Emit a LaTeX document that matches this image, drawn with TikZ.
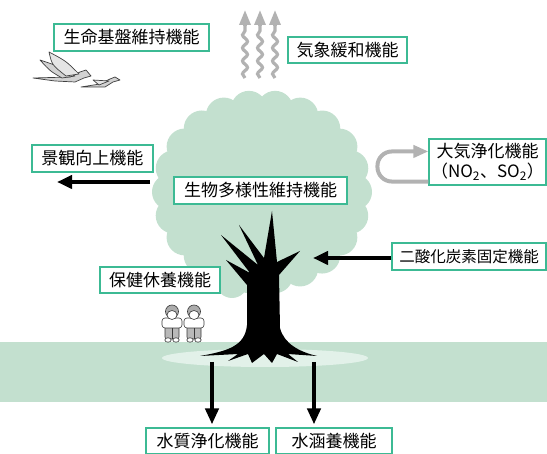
\documentclass[tikz,border=0pt]{standalone}
\usepackage{fontspec}
\setmainfont{Noto Sans CJK JP}
\usetikzlibrary{arrows.meta,decorations.pathmorphing}

\definecolor{leaf}{RGB}{195,224,207}
\definecolor{paleleaf}{RGB}{226,241,233}
\definecolor{boxline}{RGB}{60,186,148}
\definecolor{steamgray}{RGB}{178,178,178}

\begin{document}
\begin{tikzpicture}[x=1pt,y=1pt]
\tikzstyle{every node}+=[inner sep=0pt]
\tikzstyle{func}=[draw=boxline, line width=1.1pt, fill=white, minimum height=27pt, font=\fontsize{17}{20}\selectfont]
\tikzstyle{bigarrow}=[line width=4.6pt, -{Triangle[length=15pt,width=13pt]}]
\tikzstyle{grayarrow}=[steamgray, line width=4pt, -{Triangle[length=15pt,width=12pt]}]
\tikzstyle{steam}=[steamgray, line width=3.2pt]
\tikzstyle{bird}=[draw=black!75, fill=gray!35, line width=0.7pt, line join=round]
\tikzstyle{kid}=[draw=gray!45!black, line width=0.6pt]
\useasboundingbox (0,0) rectangle (547,-454);

% ground and shade under the tree
\fill[leaf] (0,-342) rectangle (547,-402);
\fill[paleleaf] (265,-358) ellipse [x radius=103, y radius=9];

% crown
\fill[leaf] (262,-192) ellipse [x radius=92, y radius=84];
\foreach \a in {0,16.36,...,350}
  \fill[leaf, shift={(262,-192)}] (\a:92 and 84) circle (18);
\fill[leaf] (232,-282) circle (16);

% trunk with branches and roots
\fill[black] (200,-356) .. controls (228,-351) and (245,-346) .. (247,-325)
  -- (247,-285) -- (226,-260) -- (250,-273) -- (221,-235) -- (258,-265)
  -- (239,-225) -- (264,-258) -- (272,-211) -- (277,-262) -- (300,-251)
  -- (279,-275) -- (280,-328) .. controls (284,-344) and (300,-352) .. (317,-356)
  -- (288,-354) -- (298,-362) -- (277,-354) -- (272,-363) -- (264,-354)
  -- (252,-363) -- (248,-354) -- (228,-361) -- (238,-354) -- cycle;

% steam rising
\foreach \sx in {245,260,275}{
  \draw[steam, decorate, decoration={snake, segment length=13pt, amplitude=2.5pt}] (\sx,-78) -- (\sx,-25);
  \draw[steam, -{Triangle[length=15pt,width=11pt]}] (\sx,-26) -- (\sx,-10);
}

% birds
\draw[bird] (33,-78) -- (70,-77) -- (80,-72) -- (86,-70) -- (91,-76) -- (84,-78) -- (75,-82) -- (55,-81) -- cycle;
\draw[bird] (75,-76) .. controls (58,-66) .. (40,-60) .. controls (50,-71) .. (62,-78) -- cycle;
\draw[bird, fill=gray!20] (79,-74) .. controls (66,-61) .. (49,-52) .. controls (52,-65) .. (66,-76) -- cycle;
\draw[bird] (81,-87) -- (100,-84) -- (110,-79) -- (115,-77) -- (120,-80) -- (113,-82) -- (105,-87) -- cycle;
\draw[bird, fill=gray!20] (109,-81) -- (93,-80) -- (99,-85) -- cycle;

% two kids sitting
\foreach \px in {172,194}{
  \draw[kid, fill=gray!55, rounded corners=2pt] (\px-7,-326) rectangle (\px+7,-339);
  \draw[kid] (\px,-328) -- (\px,-339);
  \draw[kid, fill=white] (\px-4,-340) ellipse [x radius=3.2, y radius=2.2];
  \draw[kid, fill=white] (\px+4,-340) ellipse [x radius=3.2, y radius=2.2];
  \draw[kid, fill=white, rounded corners=3pt] (\px-10,-318) rectangle (\px+10,-328);
  \draw[kid, fill=gray!65] (\px,-311.5) circle (6.5);
  \draw[kid, fill=white] (\px,-315) ellipse [x radius=5, y radius=4.5];
}

% function labels
\node[func, minimum width=155pt] (life) at (131.5,-37.5) {生命基盤維持機能};
\node[func, minimum width=119pt, minimum height=26pt] (climate) at (347.5,-50) {気象緩和機能};
\node[func, minimum width=121pt] (scenery) at (92.5,-158.5) {景観向上機能};
\node[func, minimum width=173pt] (biodiv) at (260.5,-190.5) {生物多様性維持機能};
\node[func, minimum width=117pt, minimum height=46pt, align=center] (air) at (487.5,-162)
  {大気浄化機能\\（NO\textsubscript{2}、SO\textsubscript{2}）};
\node[func, minimum width=154pt, font=\fontsize{15.5}{18}\selectfont] (co2) at (469,-256.5) {二酸化炭素固定機能};
\node[func, minimum width=120pt, minimum height=26pt] (health) at (160,-280) {保健休養機能};
\node[func, minimum width=123pt, minimum height=26pt] (wq) at (207.5,-441) {水質浄化機能};
\node[func, minimum width=116pt, minimum height=26pt] (wr) at (334,-441) {水涵養機能};

% arrows
\coordinate (scA) at (150,-182);
\coordinate (scB) at (57,-182);
\draw[bigarrow] (scA) -- (scB);

\coordinate (co2tip) at (313,-258);
\draw[bigarrow] (co2.west |- co2tip) -- (co2tip);

\draw[grayarrow, rounded corners=14.5pt] ([yshift=4pt]air.south west) -- ++(-51,0) |- ([yshift=-13pt]air.north west);

\coordinate (rootL) at (212,-362);
\coordinate (rootR) at (314,-362);
\draw[bigarrow, -{Triangle[length=16pt,width=13pt]}, shorten >=3pt] (rootL) -- (rootL |- wq.north);
\draw[bigarrow, -{Triangle[length=16pt,width=13pt]}, shorten >=3pt] (rootR) -- (rootR |- wr.north);
\end{tikzpicture}
\end{document}
